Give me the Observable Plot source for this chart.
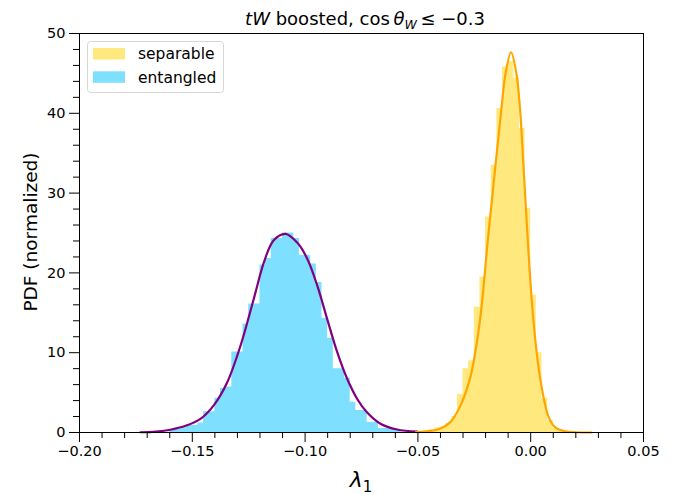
<!DOCTYPE html>
<html><head><meta charset="utf-8">
<script src="https://cdn.jsdelivr.net/npm/d3@7"></script>
<script src="https://cdn.jsdelivr.net/npm/@observablehq/plot@0.6"></script>
<style>body{margin:0;background:#fff} svg{display:block}</style>
</head><body><div id="chart"></div>
<script>
// ---- data ----
const binWidth = 0.0025;
const entangledBinStarts = [-0.16,-0.1575,-0.155,-0.1525,-0.15,-0.1475,-0.145,-0.1425,-0.14,-0.1375,-0.135,-0.1325,-0.13,-0.1275,-0.125,-0.1225,-0.12,-0.1175,-0.115,-0.1125,-0.11,-0.1075,-0.105,-0.1025,-0.1,-0.0975,-0.095,-0.0925,-0.09,-0.0875,-0.085,-0.0825,-0.08,-0.0775,-0.075,-0.0725,-0.07,-0.0675,-0.065,-0.0625,-0.06];
const entangledHeights = [0.3,0.45,0.6,0.9,0.9,1.2,2.6,2.6,4.3,5.5,5.7,10.1,10.1,13.6,16.1,16.1,21.0,21.8,24.3,24.3,25.0,25.0,24.3,22.2,22.2,21.1,18.8,14.3,11.8,8.0,8.0,6.8,3.8,2.75,2.75,1.3,1.3,0.5,0.5,0.5,0.25];
const separableBinStarts = [-0.0525,-0.05,-0.0475,-0.045,-0.0425,-0.04,-0.0375,-0.035,-0.0325,-0.03,-0.0275,-0.025,-0.0225,-0.02,-0.0175,-0.015,-0.0125,-0.01,-0.0075,-0.005,-0.0025,0,0.0025,0.005,0.0075,0.01,0.0125,0.015];
const separableHeights = [0.05,0.1,0.2,0.35,0.6,0.7,1.2,2.0,4.8,8.0,9.0,15.7,19.5,27.0,33.5,40.6,45.8,46.5,44.4,38.1,28.1,17.2,10.0,4.3,1.5,0.5,0.15,0.05];
const entangledFitX = [-0.173,-0.166,-0.1597,-0.1523,-0.1464,-0.1405,-0.1345,-0.1286,-0.1227,-0.1183,-0.1139,-0.1087,-0.1035,-0.0991,-0.0946,-0.0902,-0.0858,-0.0813,-0.0769,-0.0725,-0.0666,-0.0592,-0.0503];
const entangledFitY = [0.03,0.12,0.35,0.9,1.7,3.4,6.3,10.9,16.8,21.3,24.1,24.9,23.8,21.8,18.4,14.2,10.1,6.7,4.2,2.5,1.1,0.37,0.1];
const separableFitX = [-0.0508,-0.0444,-0.04,-0.0356,-0.0311,-0.0267,-0.0237,-0.0218,-0.019,-0.016,-0.0129,-0.0112,-0.0087,-0.0063,-0.0048,-0.003,-0.0013,0.0007,0.0029,0.0051,0.008,0.011,0.0154,0.02,0.027];
const separableFitY = [0.05,0.2,0.5,1.3,3.4,7.0,11.6,15.7,24.1,32.4,40.8,44.9,47.65,44.9,40.8,32.4,24.1,15.7,9.4,5.3,1.9,0.6,0.15,0.03,0.0];
const xMajorTicks = [-0.2,-0.15,-0.1,-0.05,0,0.05];
const xMinorTicks = [-0.19,-0.18,-0.17,-0.16,-0.14,-0.13,-0.12,-0.11,-0.09,-0.08,-0.07,-0.06,-0.04,-0.03,-0.02,-0.01,0.01,0.02,0.03,0.04];
const yMajorTicks = [0,10,20,30,40,50];
const yMinorTicks = [2,4,6,8,12,14,16,18,22,24,26,28,32,34,36,38,42,44,46,48];
const seriesNames = ["separable","entangled"];
const seriesColors = ["#ffe97f","#7fdfff"];

// ---- tables (step outlines of the histograms) ----
function stepTable(starts, heights) {
  const rows = starts.map((x, i) => ({x, y: heights[i]}));
  rows.push({x: starts[starts.length - 1] + binWidth, y: heights[heights.length - 1]});
  return rows;
}
const entangled = stepTable(entangledBinStarts, entangledHeights);
const separable = stepTable(separableBinStarts, separableHeights);
const entFit = entangledFitX.map((x,i)=>({x, y:entangledFitY[i]}));
const sepFit = separableFitX.map((x,i)=>({x, y:separableFitY[i]}));

const chart = Plot.plot({
  width: 689, height: 495,
  marginLeft: 79, marginRight: 46, marginTop: 33, marginBottom: 63,
  style: {fontFamily: "'DejaVu Sans', sans-serif", fontSize: "14.5px", color: "#000", background: "#fff", overflow: "visible"},
  x: {domain: [-0.2, 0.05]},
  y: {domain: [0, 50]},
  marks: [
    Plot.areaY(separable, {x:"x", y:"y", fill: seriesColors[0], curve: "step-after"}),
    Plot.areaY(entangled, {x:"x", y:"y", fill: seriesColors[1], curve: "step-after"}),
    Plot.line(entFit, {x:"x", y:"y", stroke:"purple", strokeWidth:2.2, curve:"catmull-rom"}),
    Plot.line(sepFit, {x:"x", y:"y", stroke:"orange", strokeWidth:2.2, curve:"catmull-rom"}),
    Plot.frame({stroke:"#000", strokeWidth:1}),
    Plot.axisX({ticks: xMajorTicks, tickSize: 10, tickPadding: 3, tickFormat: d3.format(".2f"), label: null}),
    Plot.axisX({ticks: xMinorTicks, tickSize: 6, tickFormat: () => "", label: null}),
    Plot.axisY({ticks: yMajorTicks, tickSize: 10, tickPadding: 4, tickFormat: d3.format("d"), label: null}),
    Plot.axisY({ticks: yMinorTicks, tickSize: 6, tickFormat: () => "", label: null})
  ]
});
document.getElementById("chart").appendChild(chart);

const svg = d3.select(chart);
const font = "'DejaVu Sans', sans-serif";
// title
const title = svg.append("text").attr("x", 365).attr("y", 25).attr("text-anchor", "middle")
  .attr("font-family", font).attr("font-size", 18).attr("fill", "#000");
title.append("tspan").attr("font-style", "italic").text("tW");
title.append("tspan").text(" boosted, cos\u2009");
title.append("tspan").attr("font-style", "italic").text("θ");
title.append("tspan").attr("font-style", "italic").attr("font-size", 12.5).attr("dy", 4).text("W");
title.append("tspan").attr("dy", -4).text("\u2009≤ −0.3");
// x label
const xl = svg.append("text").attr("x", 361).attr("y", 487).attr("text-anchor", "middle")
  .attr("font-family", font).attr("font-size", 22).attr("fill", "#000");
xl.append("tspan").attr("font-style", "italic").text("λ");
xl.append("tspan").attr("font-size", 15).attr("dy", 5).text("1");
// y label
svg.append("text").attr("transform", "translate(37,232) rotate(-90)").attr("text-anchor", "middle")
  .attr("font-family", font).attr("font-size", 18.5).attr("fill", "#000").text("PDF (normalized)");
// legend
const lg = svg.append("g");
lg.append("rect").attr("x", 87.5).attr("y", 41.5).attr("width", 136).attr("height", 51).attr("rx", 3)
  .attr("fill", "#fff").attr("fill-opacity", 0.8).attr("stroke", "#d6d6d6");
seriesNames.forEach((name, i) => {
  lg.append("rect").attr("x", 93).attr("y", 48 + i*23.3).attr("width", 32).attr("height", 11.5).attr("fill", seriesColors[i]);
  lg.append("text").attr("x", 138).attr("y", 54 + i*23.3).attr("dy", "0.35em").attr("text-anchor", "start")
    .attr("font-family", font).attr("font-size", 15.5).attr("fill", "#000").text(name);
});
</script>
</body></html>
